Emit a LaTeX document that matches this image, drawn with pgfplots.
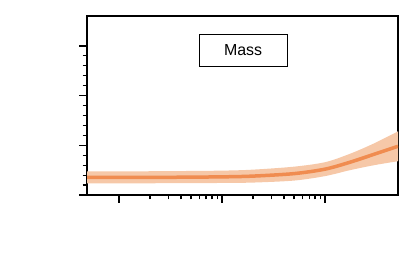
\documentclass[border=0pt]{standalone}
\usepackage{fontspec}
\setmainfont{Liberation Sans}
\usepackage{pgfplots}
\pgfplotsset{compat=1.18}
\usepgfplotslibrary{fillbetween}
\definecolor{massline}{RGB}{240,140,80}
\definecolor{massband}{RGB}{246,200,168}
\begin{document}
\begin{tikzpicture}[x=1bp,y=1bp]
  % page frame, same size as the reference
  \path (0,0) rectangle (415,273);
  \begin{axis}[
      at={(87bp,78bp)}, anchor=south west,
      scale only axis, width=311bp, height=179bp,
      xmode=log, xmin=0.49, xmax=510,
      ymin=0, ymax=3.6,
      xtick={1,10,100}, xticklabels={},
      ytick={0,1,2,3}, yticklabels={},
      minor y tick num=4,
      tick pos=left, tick align=outside,
      major tick length=8bp, minor tick length=4.5bp,
      major tick style={black, line width=1.4pt},
      minor tick style={black, line width=1.2pt},
      axis line style={line width=1.5pt},
    ]
    % confidence band
    \addplot[name path=up, draw=none, smooth] coordinates {
      (0.49,0.475) (1,0.475) (3,0.48) (10,0.49) (20,0.51) (50,0.57)
      (100,0.66) (175,0.83) (300,1.04) (510,1.28)};
    \addplot[name path=lo, draw=none, smooth] coordinates {
      (0.49,0.235) (1,0.235) (3,0.237) (10,0.242) (20,0.25) (50,0.29)
      (100,0.38) (175,0.50) (300,0.60) (510,0.68)};
    \addplot[massband, draw=none] fill between[of=up and lo];
    % mean line
    \addplot[massline, line width=3.5bp, smooth] coordinates {
      (0.49,0.355) (1,0.355) (3,0.356) (10,0.365) (20,0.38) (50,0.43)
      (100,0.52) (175,0.66) (300,0.82) (510,0.98)};
    \node[draw, line width=1pt, minimum width=88bp, minimum height=32bp,
      inner sep=0pt, font=\fontsize{16}{18}\selectfont]
      at (rel axis cs:0.502,0.81) {Mass};
  \end{axis}
\end{tikzpicture}
\end{document}
